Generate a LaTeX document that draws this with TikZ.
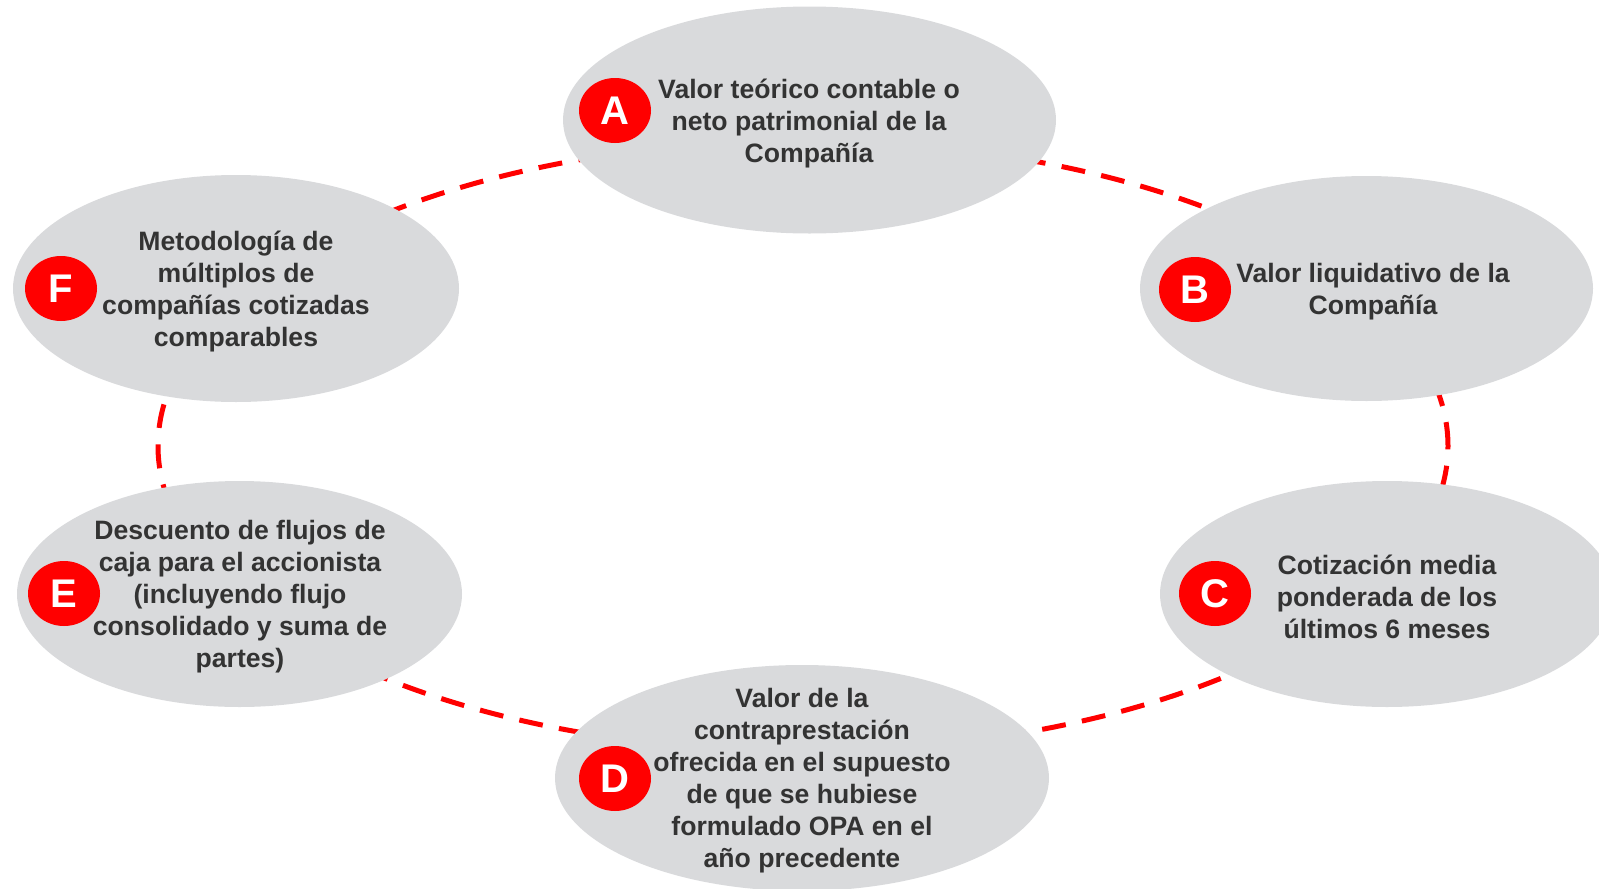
\documentclass[tikz,border=0pt]{standalone}
\usepackage{fontspec}
\setmainfont{Liberation Sans}
\usetikzlibrary{shapes.geometric}
\definecolor{bub}{RGB}{217,218,220}
\definecolor{txt}{RGB}{51,51,51}
\definecolor{ringred}{RGB}{255,0,0}
\tikzset{
  bubble/.style={ellipse, fill=bub, draw=none, inner sep=0pt},
  badge/.style={ellipse, fill=ringred, draw=none, inner sep=0pt,
    minimum width=72pt, minimum height=65pt, text=white,
    font=\fontsize{40}{40}\selectfont\bfseries},
  label/.style={align=center, text=txt, inner sep=0pt,
    font=\fontsize{26.6}{32}\selectfont\bfseries},
  ring/.style={draw=ringred, line width=5pt, dash pattern=on 24pt off 16.5pt}
}
\begin{document}
\begin{tikzpicture}[x=1pt, y=-1pt]
\useasboundingbox (0,0) rectangle (1599,889);
\coordinate (ctr) at (803,446);
\draw[ring] (ctr) ellipse [x radius=645pt, y radius=305pt];

\node[bubble, minimum width=493pt, minimum height=227pt] (A) at (809.5,120) {};
\node[bubble, minimum width=453pt, minimum height=225pt] (B) at (1366.5,288.5) {};
\node[bubble, minimum width=454pt, minimum height=226pt] (C) at (1387,594) {};
\node[bubble, minimum width=494pt, minimum height=226pt] (D) at (802,778) {};
\node[bubble, minimum width=445pt, minimum height=226pt] (E) at (239.5,594) {};
\node[bubble, minimum width=446pt, minimum height=227pt] (F) at (236,288.5) {};

\node[label] (tA) at (809,123.5) {Valor teórico contable o\\neto patrimonial de la\\Compañía};
\node[label] (tB) at (1373,291.5) {Valor liquidativo de la\\Compañía};
\node[label] (tC) at (1387,597) {Cotización media\\ponderada de los\\últimos 6 meses};
\node[label] (tD) at (802,780.5) {Valor de la\\contraprestación\\ofrecida en el supuesto\\de que se hubiese\\formulado OPA en el\\año precedente};
\node[label] (tE) at (240,597) {Descuento de flujos de\\caja para el accionista\\(incluyendo flujo\\consolidado y suma de\\partes)};
\node[label] (tF) at (236,292) {Metodología de\\múltiplos de\\compañías cotizadas\\comparables};

\node[badge] (bA) at (615,110.5) {A};
\node[badge] (bB) at (1195,289.5) {B};
\node[badge] (bC) at (1215,593.5) {C};
\node[badge] (bD) at (615,778.5) {D};
\node[badge] (bE) at (64,593.5) {E};
\node[badge] (bF) at (61,288.5) {F};
\end{tikzpicture}
\end{document}
